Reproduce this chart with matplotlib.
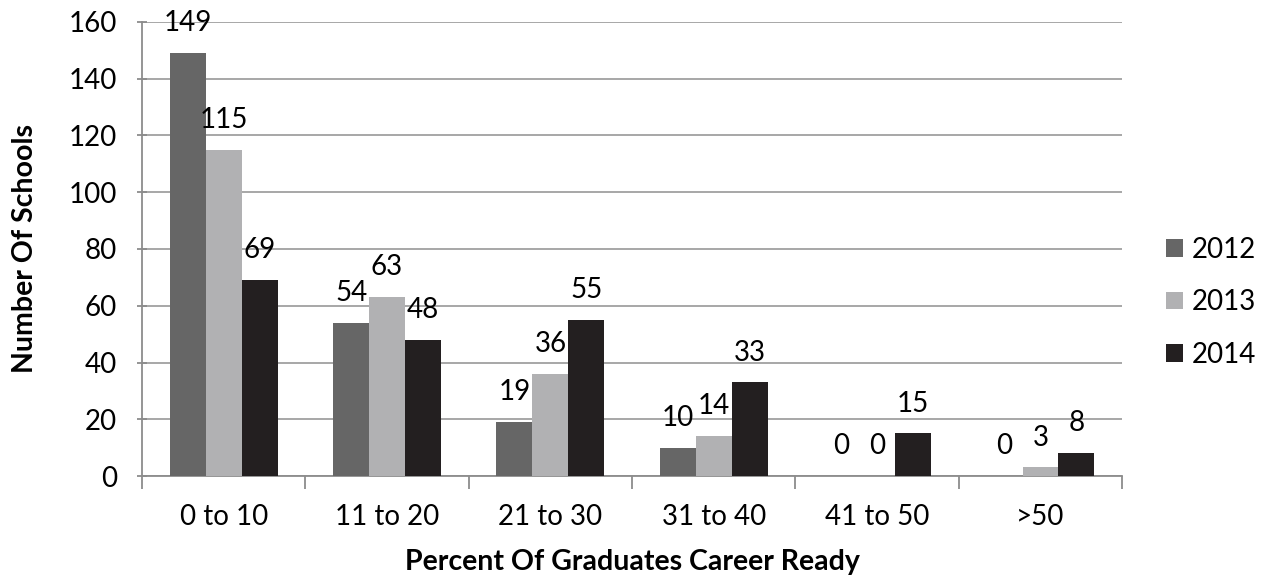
import numpy as np
import matplotlib.pyplot as plt

plt.rcParams['font.family'] = ['Lato', 'DejaVu Sans']

# data
categories = ['0 to 10', '11 to 20', '21 to 30', '31 to 40', '41 to 50', '>50']
years = ['2012', '2013', '2014']
v2012 = [149, 54, 19, 10, 0, 0]
v2013 = [115, 63, 36, 14, 0, 3]
v2014 = [69, 48, 55, 33, 15, 8]
colors = ['#666666', '#b1b1b3', '#231f20']

fig = plt.figure(figsize=(12.69, 5.8), dpi=100)
ax = fig.add_axes([0.1119, 0.1793, 0.7724, 0.7828])

x = np.arange(len(categories))
w = 0.22
for i, (vals, yr) in enumerate(zip([v2012, v2013, v2014], years)):
    pos = x + (i - 1) * w
    ax.bar(pos, vals, width=w, color=colors[i], label=yr, zorder=3)
    for px, v in zip(pos, vals):
        ax.annotate(str(v), (px, v), xytext=(0, 21.5), textcoords='offset points',
                    ha='center', va='center', fontsize=20, color='black', zorder=4)

ax.set_xlim(-0.5, len(categories) - 0.5)
ax.set_ylim(0, 160)
ax.set_yticks(range(0, 161, 20))
ax.yaxis.grid(True, color='#a0a0a0', linewidth=1.3, zorder=0)
ax.set_axisbelow(True)

ax.set_xticks(x)
ax.set_xticklabels(categories, fontsize=20)
ax.tick_params(axis='x', length=0, pad=20)
ax.set_xticks(np.arange(-0.5, len(categories)), minor=True)
ax.tick_params(axis='x', which='minor', length=9, width=1.3, color='#8c8c8c', direction='out')
ax.tick_params(axis='y', length=7, width=1.3, color='#8c8c8c', direction='inout', labelsize=20, pad=14.5)

for s in ['top', 'right']:
    ax.spines[s].set_visible(False)
for s in ['left', 'bottom']:
    ax.spines[s].set_color('#8c8c8c')
    ax.spines[s].set_linewidth(1.3)

ax.set_ylabel('Number Of Schools', fontsize=20.5, fontweight='bold', labelpad=22)
ax.set_xlabel('Percent Of Graduates Career Ready', fontsize=20.5, fontweight='bold', labelpad=14)

fig.legend(loc='center left', bbox_to_anchor=(0.9188, 0.479), frameon=False, fontsize=20,
           handlelength=0.6, handleheight=0.6, handletextpad=0.32, labelspacing=0.95,
           borderaxespad=0, borderpad=0)

fig.savefig('out.png', dpi=100)
